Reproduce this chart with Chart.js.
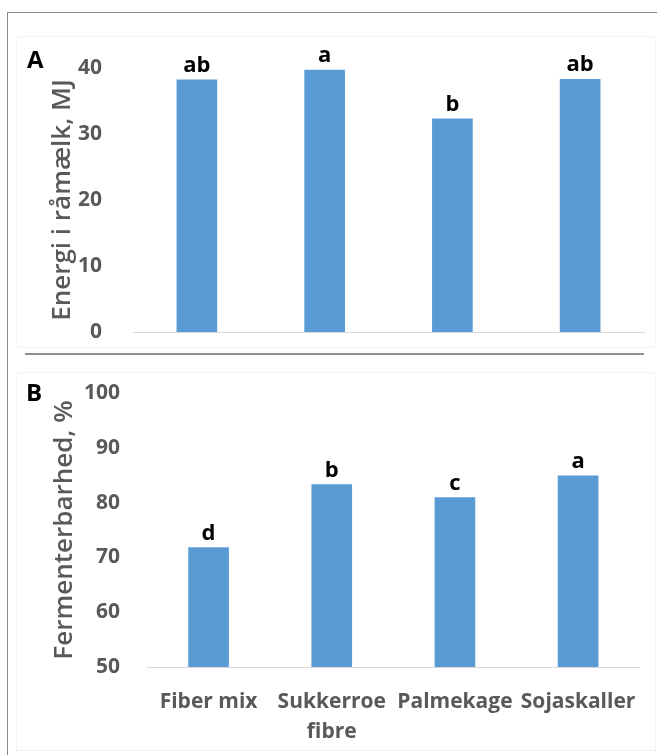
<!DOCTYPE html>
<html lang="da">
<head>
<meta charset="UTF-8">
<title>Energi og fermenterbarhed</title>
<script src="https://cdn.jsdelivr.net/npm/chart.js"></script>
<style>
    body { margin: 0; background: #fff; font-family: "Open Sans", sans-serif; }
    #wrap { position: relative; width: 657px; height: 755px; overflow: hidden; }
    .frame { position: absolute; left: 7px; top: 12px; width: 670px; height: 770px; border: 1px solid #8a8a8a; }
    .box { position: absolute; border: 1px solid #f3f3f3; }
    .sep { position: absolute; left: 25px; top: 353px; width: 619px; border-top: 2px solid #8f8f8f; }
    .panel { position: absolute; font: bold 24px "Open Sans", sans-serif; color: #000; }
    canvas { position: absolute; left: 0; }
</style>
</head>
<body>
<div id="wrap">
    <div class="frame"></div>
    <div class="box" style="left:16px; top:36px; width:638px; height:310px"></div>
    <div class="box" style="left:16px; top:372px; width:638px; height:377px"></div>
    <div class="sep"></div>
    <canvas id="chartA" width="657" height="345" style="top:0"></canvas>
    <canvas id="chartB" width="657" height="400" style="top:355px"></canvas>
    <div class="panel" style="left:27px; top:42px">A</div>
    <div class="panel" style="left:26px; top:375px">B</div>
</div>
<script>
    const kategorier = ['Fiber mix', ['Sukkerroe', 'fibre'], 'Palmekage', 'Sojaskaller'];
    const energi = [38.2, 39.7, 32.3, 38.3];
    const energiBogstaver = ['ab', 'a', 'b', 'ab'];
    const fermentering = [71.8, 83.3, 80.9, 84.9];
    const fermentBogstaver = ['d', 'b', 'c', 'a'];

    const graa = '#595959';
    const blaa = '#5b9bd5';

    // tegner bogstaverne over søjlerne
    const bogstavPlugin = {
        id: 'bogstaver',
        afterDatasetsDraw(chart, args, opts) {
            const ctx = chart.ctx;
            const meta = chart.getDatasetMeta(0);
            ctx.save();
            ctx.font = 'bold 22px "Open Sans"';
            ctx.fillStyle = '#000';
            ctx.textAlign = 'center';
            ctx.textBaseline = 'alphabetic';
            meta.data.forEach((bar, i) => {
                ctx.fillText(opts.tekster[i], bar.x, bar.y - 8);
            });
            ctx.restore();
        }
    };

    function lavGraf(id, data, bogstaver, yMin, yMax, titel, axisWidth, axisHeight, padTop, tickPad, titlePad, visLabels) {
        return new Chart(document.getElementById(id), {
            type: 'bar',
            data: {
                labels: kategorier,
                datasets: [{ data: data, backgroundColor: blaa, barThickness: 40 }]
            },
            options: {
                responsive: false,
                animation: false,
                layout: { padding: { top: padTop, right: 13, bottom: 0, left: 0 } },
                plugins: {
                    legend: { display: false },
                    tooltip: { enabled: false },
                    bogstaver: { tekster: bogstaver }
                },
                scales: {
                    x: {
                        grid: { display: false, drawTicks: false },
                        border: { color: '#d9d9d9', width: 1 },
                        ticks: {
                            display: visLabels,
                            color: graa,
                            font: { family: 'Open Sans', size: 21, weight: 'bold', lineHeight: 1.42 },
                            padding: 20,
                            maxRotation: 0,
                            autoSkip: false
                        },
                        afterFit: s => { s.height = axisHeight; }
                    },
                    y: {
                        min: yMin,
                        max: yMax,
                        grid: { display: false, drawTicks: false },
                        border: { display: false },
                        ticks: {
                            stepSize: 10,
                            color: graa,
                            font: { family: 'Open Sans', size: 21, weight: 'bold' },
                            padding: tickPad
                        },
                        title: {
                            display: true,
                            text: titel,
                            color: graa,
                            font: { family: 'Open Sans', size: 26, weight: '600' },
                            padding: { top: titlePad, bottom: 0 }
                        },
                        afterFit: s => {
                            s.width = axisWidth;
                            // tick-padding skal ikke skubbe plotområdet
                            s.paddingTop = 5;
                            s.paddingBottom = 5;
                        }
                    }
                }
            },
            plugins: [bogstavPlugin]
        });
    }

    lavGraf('chartA', energi, energiBogstaver, 0, 40, 'Energi i råmælk, MJ', 133, 13, 68, 31, 47, false);
    lavGraf('chartB', fermentering, fermentBogstaver, 50, 100, 'Fermenterbarhed, %', 147, 88, 38, 27, 49, true);
</script>
</body>
</html>
